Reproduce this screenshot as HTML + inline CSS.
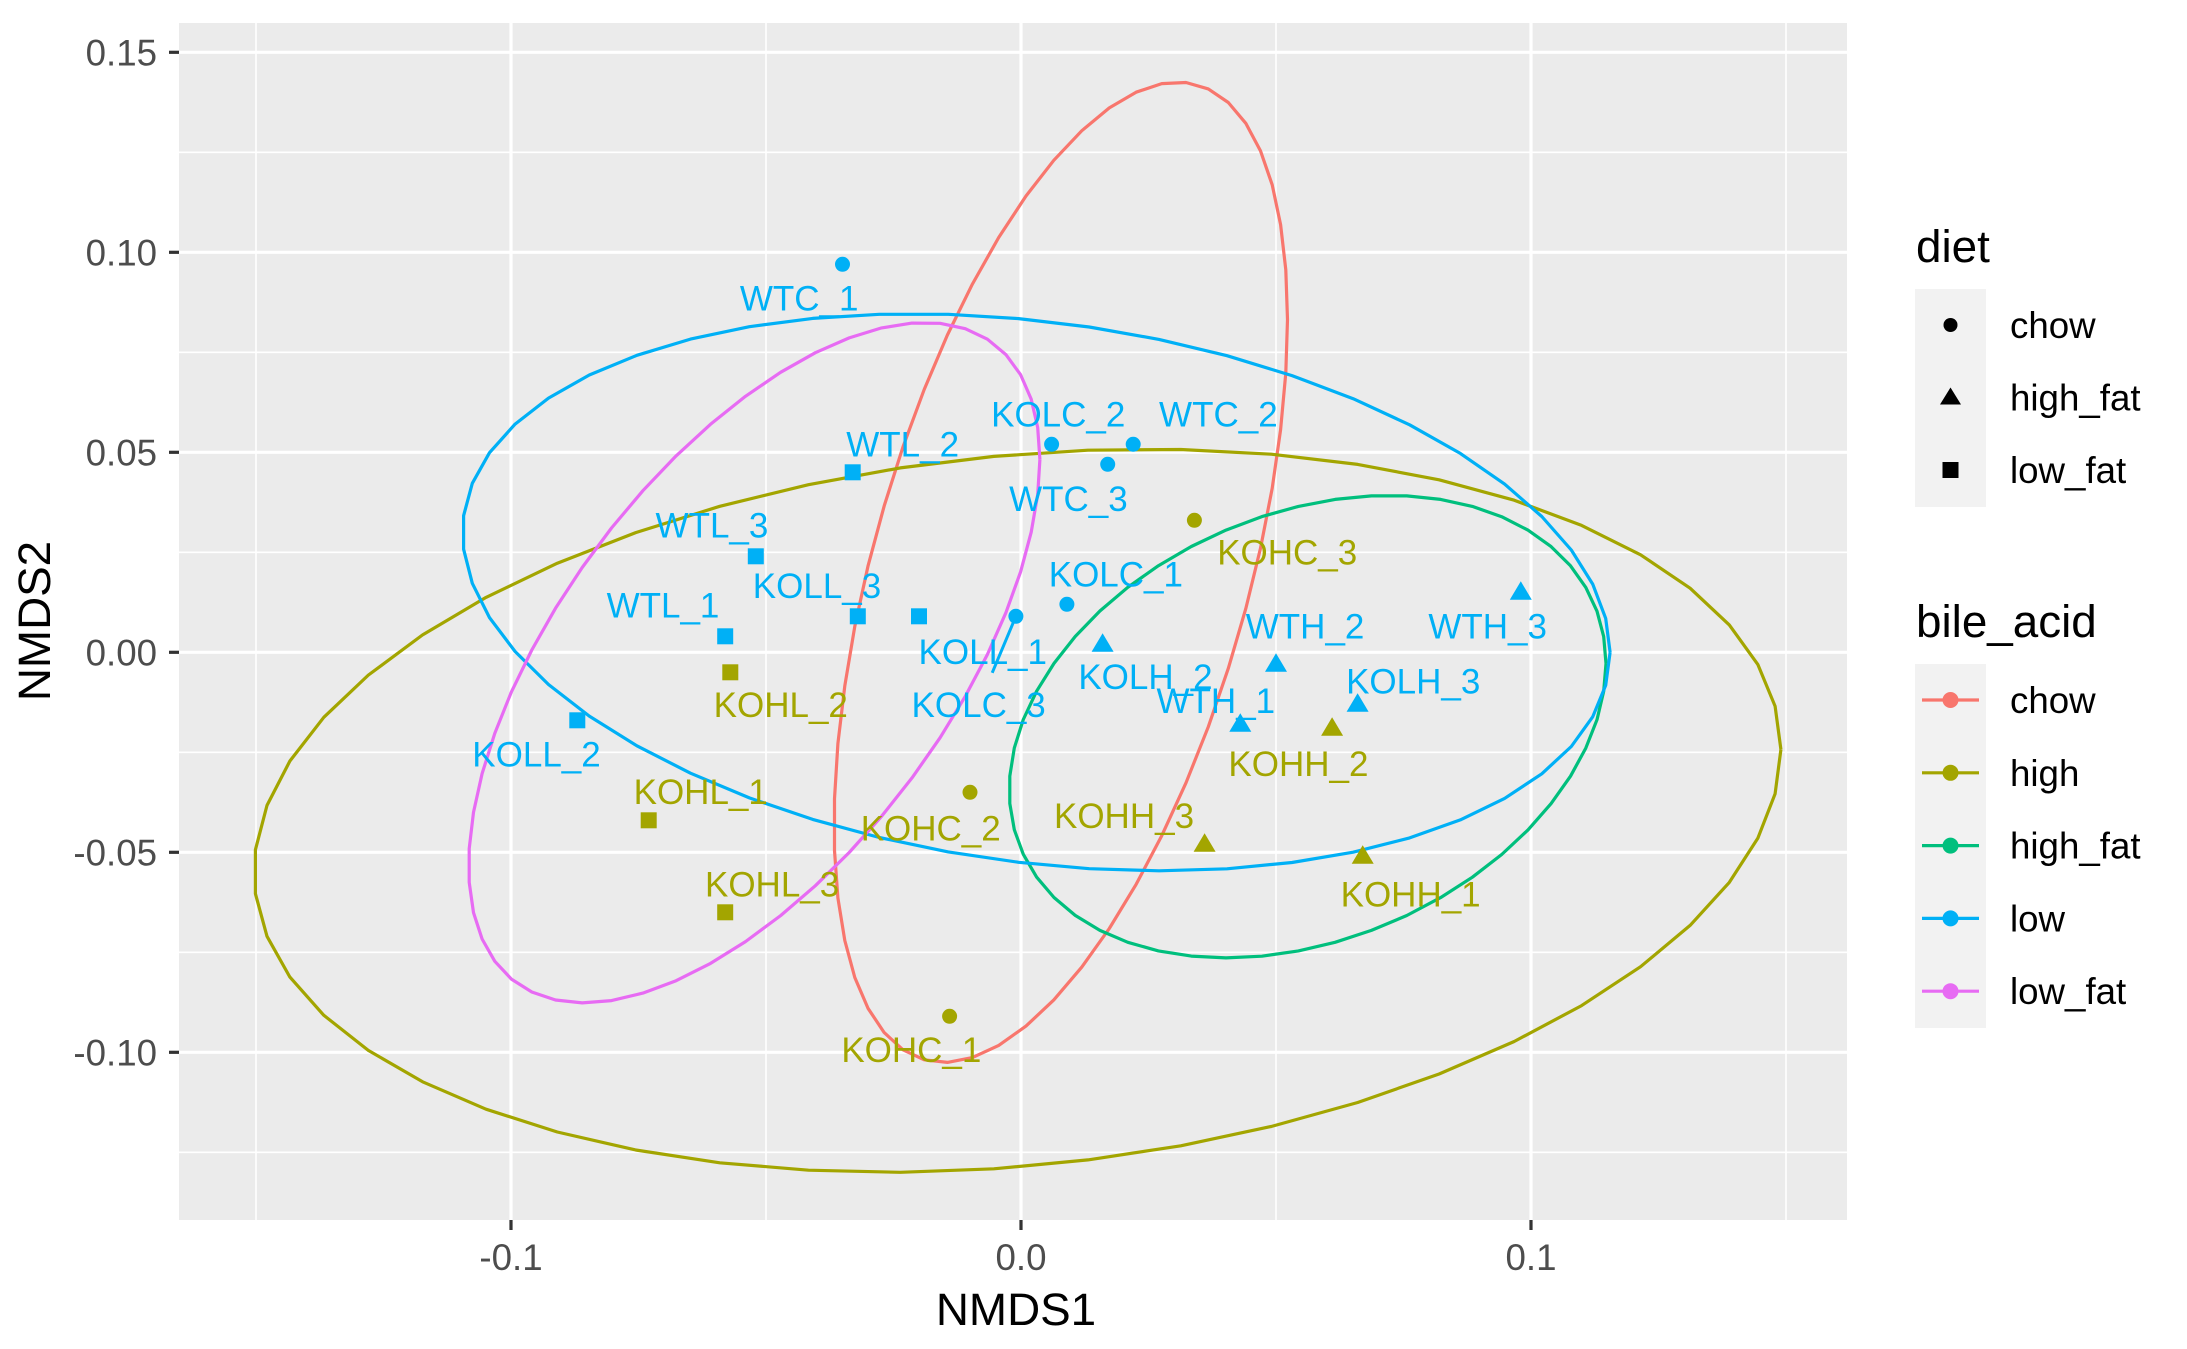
<!DOCTYPE html>
<html><head><meta charset="utf-8">
<style>
html,body{margin:0;padding:0;background:#fff;}
svg{display:block;font-family:"Liberation Sans",Arial,sans-serif;}
</style></head>
<body>
<svg id="chart" width="2187" height="1349" viewBox="0 0 2187 1349" xmlns="http://www.w3.org/2000/svg">
<rect x="0" y="0" width="2187" height="1349" fill="#fff"/>
<g id="panel"></g>
<g id="axes"></g>
<text x="1016" y="1325" font-size="45.8" text-anchor="middle" fill="#000">NMDS1</text>
<text transform="translate(50,621) rotate(-90)" font-size="45.8" text-anchor="middle" fill="#000">NMDS2</text>
<g id="legend"></g>
</svg>
<script>
const names = ["WTC_1","KOLC_2","WTC_2","WTC_3","KOLC_1","KOLC_3","WTL_2","WTL_3","KOLL_3","KOLL_1","WTL_1","KOLL_2","WTH_2","WTH_3","KOLH_2","WTH_1","KOLH_3","KOHC_3","KOHC_2","KOHC_1","KOHL_2","KOHL_1","KOHL_3","KOHH_2","KOHH_3","KOHH_1"];
const nmds1 = [-0.035,0.006,0.022,0.017,0.009,-0.001,-0.033,-0.052,-0.032,-0.020,-0.058,-0.087,0.050,0.098,0.016,0.043,0.066,0.034,-0.010,-0.014,-0.057,-0.073,-0.058,0.061,0.036,0.067];
const nmds2 = [0.097,0.052,0.052,0.047,0.012,0.009,0.045,0.024,0.009,0.009,0.004,-0.017,-0.003,0.015,0.002,-0.018,-0.013,0.033,-0.035,-0.091,-0.005,-0.042,-0.065,-0.019,-0.048,-0.051];
const diet = ["chow","chow","chow","chow","chow","chow","low_fat","low_fat","low_fat","low_fat","low_fat","low_fat","high_fat","high_fat","high_fat","high_fat","high_fat","chow","chow","chow","low_fat","low_fat","low_fat","high_fat","high_fat","high_fat"];
const group = ["low","low","low","low","low","low","low","low","low","low","low","low","low","low","low","low","low","high","high","high","high","high","high","high","high","high"];
const labelX = [-0.0435,0.0073,0.0387,0.0093,0.0186,-0.0083,-0.0232,-0.0606,-0.0400,-0.0075,-0.0702,-0.0950,0.0557,0.0915,0.0244,0.0382,0.0769,0.0522,-0.0177,-0.0215,-0.0471,-0.0628,-0.0488,0.0544,0.0202,0.0764];
const labelY = [0.0884,0.0594,0.0594,0.0383,0.0194,-0.0132,0.0520,0.0317,0.0166,0.0001,0.0117,-0.0255,0.0064,0.0064,-0.0062,-0.0122,-0.0073,0.0250,-0.0441,-0.0994,-0.0132,-0.0349,-0.0581,-0.0279,-0.0409,-0.0605];
const segmentLabels = ["KOLC_3"];
// ellipses: x = cx + a cos t ; y = cy + c cos t + b sin t
const ellGroups = ["chow","high","high_fat","low","low_fat"];
const ellCx = [0.0078,-0.0007,0.0562,0.0030,-0.0523];
const ellCy = [0.020,-0.0396,-0.0186,0.0150,-0.0026];
const ellA = [0.04445,0.1497,0.0585,0.1125,0.056];
const ellB = [0.1050,0.0891,0.0556,0.0680,0.0682];
const ellC = [0.0632,0.0153,0.0158,-0.0150,0.0508];
const xTicks = [-0.1,0,0.1];
const xTickLabels = ["-0.1","0.0","0.1"];
const xMinor = [-0.15,-0.05,0.05,0.15];
const yTicks = [-0.10,-0.05,0,0.05,0.10,0.15];
const yTickLabels = ["-0.10","-0.05","0.00","0.05","0.10","0.15"];
const yMinor = [-0.125,-0.075,-0.025,0.025,0.075,0.125];

const colors = {chow:"#F8766D",high:"#A3A500",high_fat:"#00BF7D",low:"#00B0F6",low_fat:"#E76BF3"};
const PL=179, PR=1847, PT=23, PB=1220;
const xs = v => 1021 + v*5100;
const ys = v => 652.3 - v*4000;
const NS="http://www.w3.org/2000/svg";
function mk(tag, attrs, parent){const e=document.createElementNS(NS,tag);for(const k in attrs)e.setAttribute(k,attrs[k]);parent.appendChild(e);return e;}
const panel=document.getElementById('panel'), axes=document.getElementById('axes'), legend=document.getElementById('legend');

const bg=mk('rect',{x:PL,y:PT,width:PR-PL,height:PB-PT,fill:'#EBEBEB'},panel);


xMinor.forEach(v=>{const l=mk('line',{x1:xs(v),x2:xs(v),y1:PT,y2:PB,stroke:'#fff','stroke-width':1.6},panel);

});
yMinor.forEach(v=>{const l=mk('line',{x1:PL,x2:PR,y1:ys(v),y2:ys(v),stroke:'#fff','stroke-width':1.6},panel);

});
xTicks.forEach((v,i)=>{const l=mk('line',{x1:xs(v),x2:xs(v),y1:PT,y2:PB,stroke:'#fff','stroke-width':3.2},panel);


const t=mk('line',{x1:xs(v),x2:xs(v),y1:PB,y2:PB+10,stroke:'#333','stroke-width':3.2},axes);


const tx=mk('text',{x:xs(v),y:PB+50,'font-size':36.7,'text-anchor':'middle',fill:'#4D4D4D'},axes);tx.textContent=xTickLabels[i];

});
yTicks.forEach((v,i)=>{const l=mk('line',{x1:PL,x2:PR,y1:ys(v),y2:ys(v),stroke:'#fff','stroke-width':3.2},panel);


const t=mk('line',{x1:PL-10,x2:PL,y1:ys(v),y2:ys(v),stroke:'#333','stroke-width':3.2},axes);


const tx=mk('text',{x:PL-22,y:ys(v)+13,'font-size':36.7,'text-anchor':'end',fill:'#4D4D4D'},axes);tx.textContent=yTickLabels[i];

});

ellGroups.forEach((g,k)=>{let pts=[];for(let i=0;i<=51;i++){const t=2*Math.PI*i/51;
pts.push(xs(ellCx[k]+ellA[k]*Math.cos(t)).toFixed(1)+','+ys(ellCy[k]+ellC[k]*Math.cos(t)+ellB[k]*Math.sin(t)).toFixed(1));}
const p=mk('polyline',{points:pts.join(' '),fill:'none',stroke:colors[g],'stroke-width':3.2,'stroke-linejoin':'round'},panel);

});

names.forEach((n,i)=>{const c=colors[group[i]],x=xs(nmds1[i]),y=ys(nmds2[i]);let m;
if(diet[i]==='chow')m=mk('circle',{cx:x,cy:y,r:7.5,fill:c},panel);
else if(diet[i]==='high_fat')m=mk('polygon',{points:`${x},${y-11} ${x-11},${y+7.5} ${x+11},${y+7.5}`,fill:c},panel);
else m=mk('rect',{x:x-8,y:y-8,width:16,height:16,fill:c},panel);


const lx=xs(labelX[i]),ly=ys(labelY[i]);
if(segmentLabels.includes(n)){const d=Math.hypot(lx-x,ly-y);
const s=mk('line',{x1:x,y1:y,x2:x+(lx-x)*(1-35/d),y2:y+(ly-y)*(1-35/d),stroke:c,'stroke-width':3},panel);

}
const t=mk('text',{x:lx,y:ly+12,'font-size':35,'text-anchor':'middle',fill:c},panel);t.textContent=n;

});

const lt1=mk('text',{x:1916,y:262,'font-size':45.8,fill:'#000'},legend);lt1.textContent='diet';


const kb1=mk('rect',{x:1915,y:289,width:71,height:218,fill:'#F2F2F2'},legend);


const dietLevels=["chow","high_fat","low_fat"];
dietLevels.forEach((d,i)=>{const y=325+i*72.5,x=1950.5;let m;
if(d==='chow')m=mk('circle',{cx:x,cy:y,r:7,fill:'#000'},legend);
else if(d==='high_fat')m=mk('polygon',{points:`${x},${y-10} ${x-10.5},${y+7} ${x+10.5},${y+7}`,fill:'#000'},legend);
else m=mk('rect',{x:x-8,y:y-8,width:16,height:16,fill:'#000'},legend);


const t=mk('text',{x:2010,y:y+13,'font-size':36.7,fill:'#000'},legend);t.textContent=d;

});
const lt2=mk('text',{x:1916,y:637,'font-size':45.8,fill:'#000'},legend);lt2.textContent='bile_acid';


const kb2=mk('rect',{x:1915,y:664,width:71,height:364,fill:'#F2F2F2'},legend);


ellGroups.forEach((g,i)=>{const y=700+i*72.8,c=colors[g];
const l=mk('line',{x1:1922,x2:1979,y1:y,y2:y,stroke:c,'stroke-width':3.2},legend);


const m=mk('circle',{cx:1950.5,cy:y,r:8,fill:c},legend);


const t=mk('text',{x:2010,y:y+13,'font-size':36.7,fill:'#000'},legend);t.textContent=g;

});
</script>
</body></html>
